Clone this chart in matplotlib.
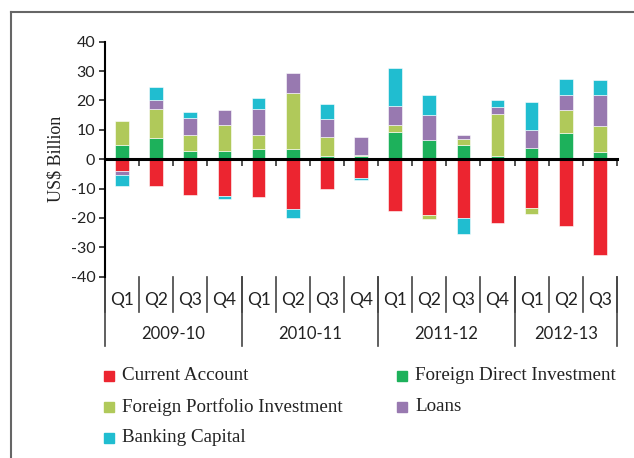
import numpy as np
import matplotlib.pyplot as plt
from matplotlib.lines import Line2D
from matplotlib.patches import Rectangle

plt.rcParams['font.family'] = ['Liberation Serif', 'DejaVu Serif']
SANS = ['Lato', 'DejaVu Sans']

quarters = ['Q1', 'Q2', 'Q3', 'Q4', 'Q1', 'Q2', 'Q3', 'Q4',
            'Q1', 'Q2', 'Q3', 'Q4', 'Q1', 'Q2', 'Q3']
years = ['2009-10', '2010-11', '2011-12', '2012-13']
year_len = [4, 4, 4, 3]

# US$ billion
current_account = [-4.1, -9.2, -12.1, -12.6, -12.7, -17.0, -10.0, -6.5,
                   -17.6, -19.0, -20.1, -21.8, -16.7, -22.9, -32.6]
fdi = [4.8, 7.3, 2.7, 2.7, 3.4, 3.4, 1.0, 1.1,
       9.2, 6.4, 4.8, 1.1, 3.9, 8.9, 2.4]
fpi = [8.3, 9.7, 5.7, 8.8, 4.7, 19.3, 6.5, 0.3,
       2.6, -1.2, 2.0, 14.2, -1.9, 7.8, 8.8]
loans = [-1.4, 3.3, 5.8, 5.1, 8.9, 6.7, 6.3, 6.3,
         6.4, 8.5, 1.6, 2.6, 6.2, 5.2, 10.7]
banking = [-3.5, 4.3, 1.9, -0.9, 4.0, -3.1, 4.9, -0.7,
           12.7, 7.0, -5.4, 2.1, 9.3, 5.5, 5.2]

series = [
    ('Current Account', current_account, '#ec2530'),
    ('Foreign Direct Investment', fdi, '#1db15b'),
    ('Foreign Portfolio Investment', fpi, '#b0c95a'),
    ('Loans', loans, '#9879b0'),
    ('Banking Capital', banking, '#20bdd0'),
]

fig = plt.figure(figsize=(6.34, 4.58), dpi=100)
ax = fig.add_axes([0.1656, 0.3958, 0.8076, 0.5131])

x = np.arange(len(quarters))
pos_base = np.zeros(len(x))
neg_base = np.zeros(len(x))
for name, vals, col in series:
    v = np.array(vals)
    base = np.where(v >= 0, pos_base, neg_base)
    ax.bar(x, v, bottom=base, width=0.4, color=col,
           edgecolor='#ffffff', linewidth=0.4, zorder=2)
    pos_base += np.where(v >= 0, v, 0)
    neg_base += np.where(v < 0, v, 0)

ax.set_xlim(-0.5, len(x) - 0.5)
ax.set_ylim(-40, 40)
ax.set_yticks(range(-40, 41, 10))
ax.set_yticklabels([str(t) for t in range(-40, 41, 10)], family=SANS)
ax.tick_params(axis='y', direction='out', length=4, width=1.2,
               labelsize=11.5, colors='#222222', pad=3)
ax.set_ylabel('US$ Billion', fontsize=13, color='#222222', labelpad=4)

for s in ['top', 'right']:
    ax.spines[s].set_visible(False)
ax.spines['left'].set_linewidth(1.5)
ax.spines['bottom'].set_position(('data', 0))
ax.spines['bottom'].set_linewidth(2.2)
ax.spines['bottom'].set_zorder(3)
ax.set_xticks(np.arange(len(x) + 1) - 0.5)
ax.set_xticklabels([])
ax.tick_params(axis='x', direction='out', length=5, width=1.2, colors='#333333')

# category rows under the plot
trans = ax.get_xaxis_transform()
for b in np.arange(len(x) + 1) - 0.5:
    ax.plot([b, b], [0, -0.15], transform=trans, color='#444444',
            lw=1.2, clip_on=False)
for i, q in enumerate(quarters):
    ax.text(i, -0.099, q, transform=trans, ha='center', va='center',
            fontsize=12.5, color='#222222', family=SANS)
start = 0
edges = [-0.5]
for y, n in zip(years, year_len):
    ax.text(start + (n - 1) / 2, -0.244, y, transform=trans, ha='center',
            va='center', fontsize=12, color='#222222', family=SANS)
    start += n
    edges.append(start - 0.5)
for b in edges:
    ax.plot([b, b], [0, -0.295], transform=trans, color='#444444',
            lw=1.2, clip_on=False)

# legend
W, H = 634, 458
legend_pos = [(109, 375.7), (402, 375.7), (109, 406.7), (402, 406.7), (109, 438)]
for (name, vals, col), (px, py) in zip(series, legend_pos):
    fig.add_artist(Rectangle(((px - 5) / W, 1 - (py + 5) / H), 10 / W, 10 / H,
                             color=col, transform=fig.transFigure))
    fig.text((px + 13) / W, 1 - py / H, name, ha='left', va='center',
             fontsize=13.7, color='#222222')

# frame partly cropped
fig.add_artist(Line2D([11 / W, 1], [1 - 12 / H, 1 - 12 / H], color='#666666',
                      lw=1.5, transform=fig.transFigure))
fig.add_artist(Line2D([11 / W, 11 / W], [0, 1 - 12 / H], color='#666666',
                      lw=1.5, transform=fig.transFigure))

fig.savefig('out.png', dpi=100)
